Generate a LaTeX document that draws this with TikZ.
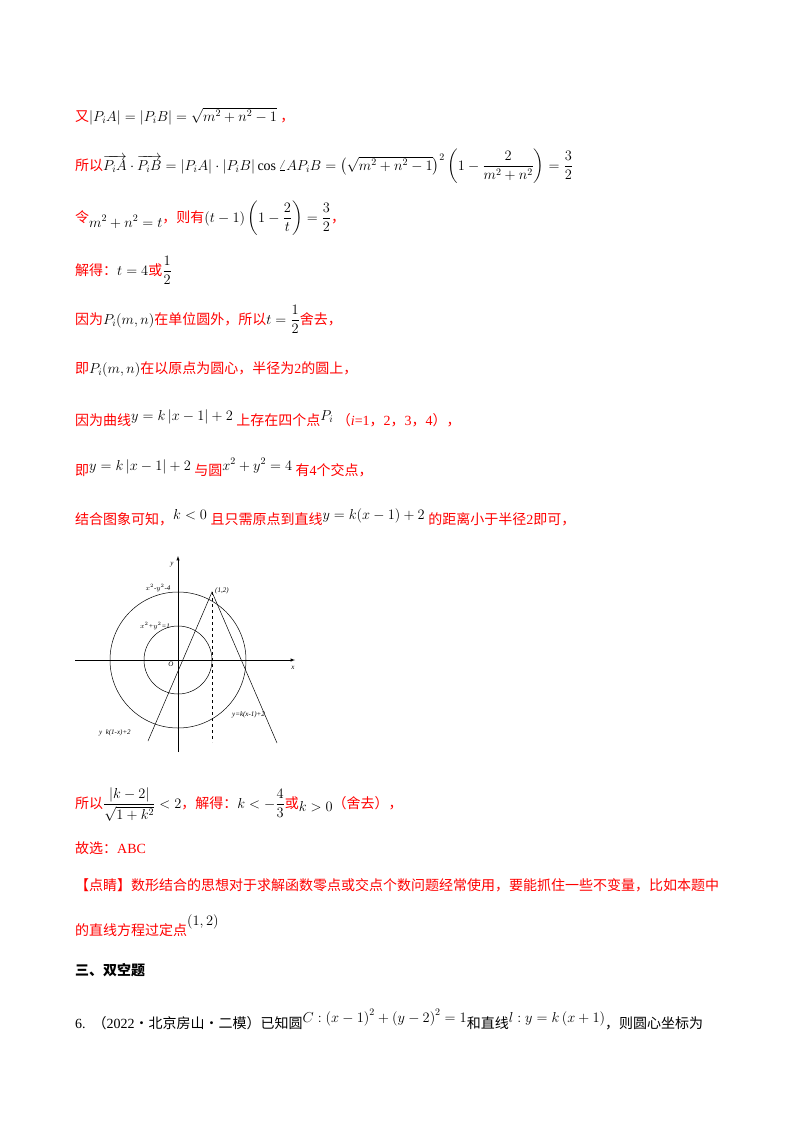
\documentclass[tikz,border=0pt]{standalone}
\usepackage{amsmath}
\usepackage{fontspec}
\setmainfont{Liberation Serif}
\newfontfamily\cjk{Noto Sans CJK SC}
\newcommand{\R}[1]{{\color{red}\cjk #1}}
\newcommand{\Rs}[1]{{\color{red}#1}}
\begin{document}
\begin{tikzpicture}[x=1pt,y=-1pt,
  ln/.style={anchor=base west,inner sep=0pt,font=\fontsize{14}{16}\selectfont},
  lb/.style={inner sep=0pt,font=\fontsize{7}{8}\selectfont\itshape},
  gl/.style={line width=0.5pt}]
\useasboundingbox[fill=white] (0,0) rectangle (800,1132);
\node[ln] (l1) at (75,121) {\R{又}$\left|P_iA\right|=\left|P_iB\right|=\sqrt{m^2+n^2-1}$\ \R{，}};
\node[ln] (l2) at (75,170) {\R{所以}$\overrightarrow{P_iA}\cdot\overrightarrow{P_iB}=\left|P_iA\right|\cdot\left|P_iB\right|\cos\angle AP_iB=\left(\sqrt{m^2+n^2-1}\right)^{2}\left(1-\dfrac{2}{m^2+n^2}\right)=\dfrac{3}{2}$};
\node[ln] (l3) at (75,222) {\R{令}\raisebox{-5pt}{$m^2+n^2=t$}\R{，则有}$(t-1)\left(1-\dfrac{2}{t}\right)=\dfrac{3}{2}$\R{，}};
\node[ln] (l4) at (75,275) {\R{解得：}$t=4$\R{或}$\dfrac{1}{2}$};
\node[ln] (l5) at (75,324) {\R{因为}$P_i(m,n)$\R{在单位圆外，所以}$t=\dfrac{1}{2}$\R{舍去，}};
\node[ln] (l6) at (75,373) {\R{即}$P_i(m,n)$\R{在以原点为圆心，半径为}\Rs{2}\R{的圆上，}};
\node[ln] (l7) at (75,425) {\R{因为曲线}\raisebox{5pt}{$y=k\left|x-1\right|+2$}\ \R{上存在四个点}\raisebox{5pt}{$P_i$}\ \R{（}\Rs{\textit{i}=1}\R{，}\Rs{2}\R{，}\Rs{3}\R{，}\Rs{4}\R{），}};
\node[ln] (l8) at (75,475) {\R{即}\raisebox{5pt}{$y=k\left|x-1\right|+2$}\ \R{与圆}\raisebox{5pt}{$x^2+y^2=4$}\ \R{有}\Rs{4}\R{个交点，}};
\node[ln] (l9) at (75,524) {\R{结合图象可知，}\raisebox{5pt}{$k<0$}\ \R{且只需原点到直线}\raisebox{5pt}{$y=k(x-1)+2$}\ \R{的距离小于半径}\Rs{2}\R{即可，}};
% figure
\coordinate (O) at (178,660);
\draw[gl,-latex] (75,660) -- (295,660);
\draw[gl,-latex] (178,752) -- (178,556);
\draw[gl] (O) circle (34);
\draw[gl] (O) circle (68);
\coordinate (P) at (212,592);
\coordinate (L) at (148,741);
\coordinate (Rr) at (277,743);
\draw[gl] (L) -- (P) -- (Rr);
\draw[gl,dashed] (P) -- (212,742);
\node[lb] (ly) at (172,565) {y};
\node[lb] (lc4) at (158,588) {$x^2$-$y^2$-4};
\node[lb,anchor=west] (lp) at (215,591) {(1,2)};
\node[lb] (lc1) at (155,626) {$x^2$+$y^2$=1};
\node[lb] (lo) at (171,664) {O};
\node[lb] (lx) at (293,668) {x};
\node[lb,anchor=west] (lr) at (232,715) {y=k(x-1)+2};
\node[lb,anchor=west] (ll) at (99,733) {y\ \ k(1-x)+2};
\node[ln] (l10) at (75,808) {\R{所以}$\dfrac{\left|k-2\right|}{\sqrt{1+k^2}}<2$\R{，解得：}$k<-\dfrac{4}{3}$\R{或}\raisebox{-3pt}{$k>0$}\R{（舍去），}};
\node[ln] (l11) at (75,853) {\R{故选：}\Rs{ABC}};
\node[ln] (l12) at (75,890) {\R{【点睛】数形结合的思想对于求解函数零点或交点个数问题经常使用，要能抓住一些不变量，比如本题中}};
\node[ln] (l13) at (75,935) {\R{的直线方程过定点}\raisebox{10pt}{$\left(1,2\right)$}};
\node[ln] (l14) at (75,975) {{\cjk\bfseries 三、双空题}};
\node[ln] (l15) at (75,1028) {6.\ \ {\cjk （}2022{\cjk ·北京房山·二模）已知圆}\raisebox{6pt}{$C:\left(x-1\right)^2+\left(y-2\right)^2=1$}{\cjk 和直线}\raisebox{6pt}{$l:y=k\left(x+1\right)$}{\cjk ，则圆心坐标为}};
\end{tikzpicture}
\end{document}
